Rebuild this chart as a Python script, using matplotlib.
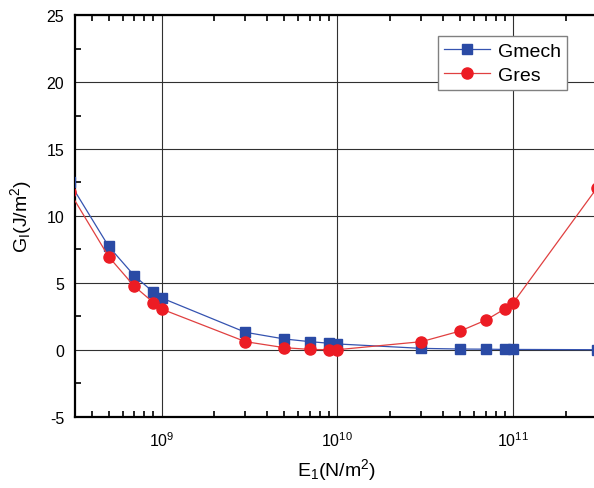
import numpy as np
import matplotlib.pyplot as plt
from matplotlib.ticker import LogLocator, MultipleLocator, NullFormatter

plt.rcParams['font.family'] = ['Liberation Sans', 'DejaVu Sans']
plt.rcParams['mathtext.fontset'] = 'custom'
plt.rcParams['mathtext.rm'] = 'Liberation Sans'
plt.rcParams['mathtext.it'] = 'Liberation Sans:italic'
plt.rcParams['axes.unicode_minus'] = False

# Modul E1 (N/m^2)
E1 = [3e8, 5e8, 7e8, 9e8, 1e9, 3e9, 5e9, 7e9, 9e9, 1e10,
      3e10, 5e10, 7e10, 9e10, 1e11, 3e11]
# Energia pękania (J/m^2)
Gmech = [12.5, 7.73, 5.53, 4.29, 3.87, 1.30, 0.80, 0.60, 0.48, 0.43,
         0.10, 0.05, 0.04, 0.02, 0.02, 0.0]
Gres = [11.8, 6.96, 4.74, 3.52, 3.04, 0.60, 0.15, 0.02, 0.0, 0.0,
        0.60, 1.40, 2.22, 3.07, 3.52, 12.12]

fig = plt.figure(figsize=(5.94, 4.89), dpi=100)
ax = fig.add_axes([0.127, 0.146, 0.8785, 0.8209])

ax.plot(E1, Gmech, color='#3553b0', lw=0.9, marker='s', ms=7.5,
        mfc='#2a4aa5', mec='#2a4aa5', label='Gmech', zorder=3)
ax.plot(E1, Gres, color='#e04040', lw=0.9, marker='o', ms=8,
        mfc='#ec1c24', mec='#ec1c24', label='Gres', zorder=4)

ax.set_xscale('log')
ax.set_xlim(3.24e8, 3e11)
ax.set_ylim(-5, 25)

# Siatka
ax.grid(True, which='major', color='#303030', lw=0.8)
ax.set_axisbelow(True)

ax.yaxis.set_major_locator(MultipleLocator(5))
ax.yaxis.set_minor_locator(MultipleLocator(2.5))
ax.xaxis.set_major_locator(LogLocator(base=10))
ax.xaxis.set_minor_locator(LogLocator(base=10, subs=np.arange(2, 10)))
ax.xaxis.set_minor_formatter(NullFormatter())

ax.tick_params(which='both', direction='in', top=True, right=False,
               labelsize=11.5, width=1.2, color='black')
ax.tick_params(which='major', length=0, pad=8)
ax.tick_params(which='minor', length=4.5)
ax.tick_params(axis='x', which='major', pad=10)

for s in ['left', 'bottom', 'top']:
    ax.spines[s].set_linewidth(1.6)
ax.spines['right'].set_visible(False)

ax.set_xlabel('E$_1$(N/m$^2$)', fontsize=14, labelpad=5)
ax.set_ylabel('G$_\\mathrm{I}$(J/m$^2$)', fontsize=14, labelpad=9)

leg = ax.legend(loc='upper right', bbox_to_anchor=(0.942, 0.948), fontsize=14,
                frameon=True, fancybox=False, framealpha=1, edgecolor='#808080',
                handlelength=2.4, borderpad=0.3, labelspacing=0.35,
                handletextpad=0.4, borderaxespad=0)
leg.get_frame().set_linewidth(1.0)

fig.savefig('out.png', dpi=100)
